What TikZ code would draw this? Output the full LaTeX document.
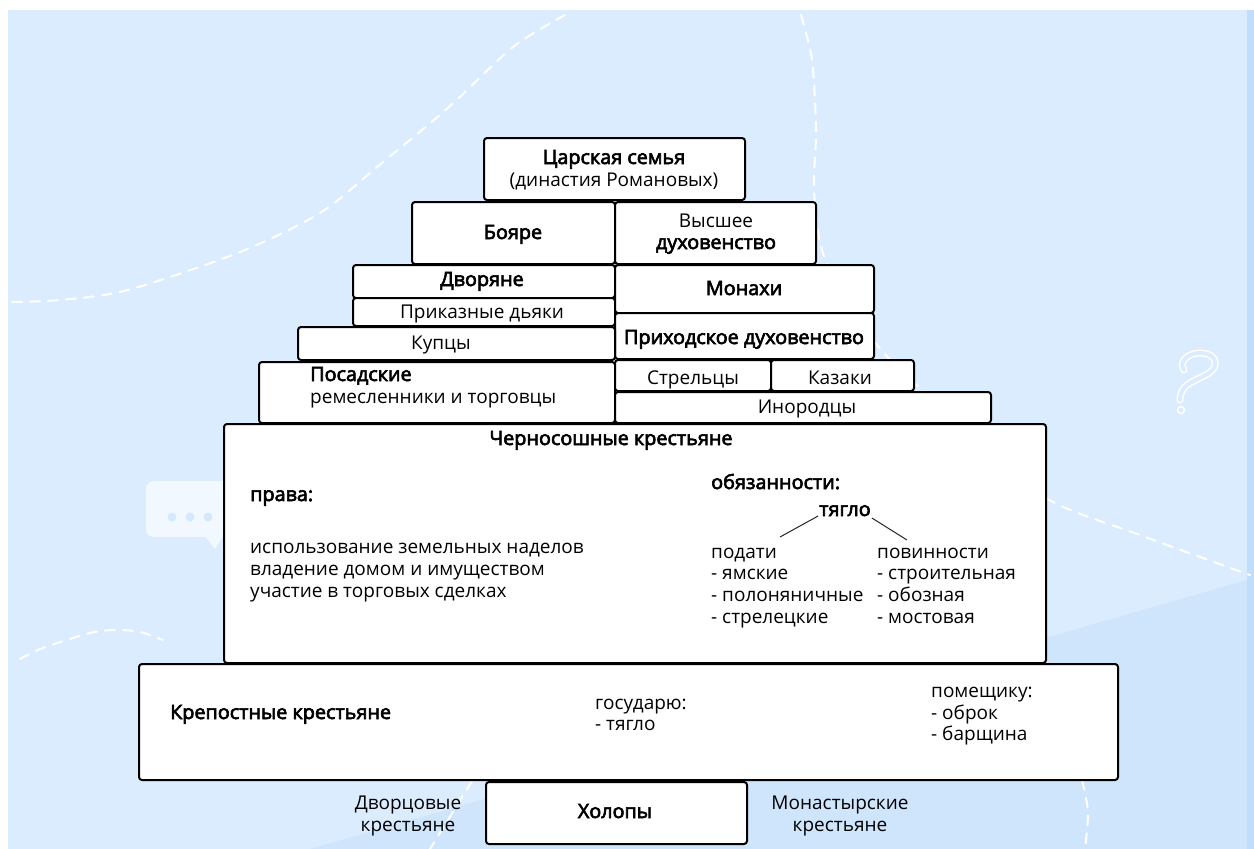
\documentclass[tikz,border=0pt]{standalone}
\usepackage{fontspec}
\setmainfont{Open Sans}[AutoFakeBold=3.2]
\definecolor{bgblue}{RGB}{219,236,254}
\definecolor{bgdark}{RGB}{207,229,252}
\definecolor{bgstrip}{RGB}{192,221,251}
\definecolor{bubble}{RGB}{241,248,255}
\definecolor{dotblue}{RGB}{214,233,252}
\newcommand\mybox[5]{\node[boxst, minimum width={#4-#2}, minimum height={#5-#3}] (#1) at ({(#2+#4)/2},{(#3+#5)/2}) {};}
\begin{document}
\begin{tikzpicture}[x=1pt,y=-1pt,
  boxst/.style={draw=black, line width=2pt, fill=white, rounded corners=3pt, inner sep=0pt, outer sep=0pt},
  txt/.style={font=\fontsize{19}{22}\selectfont, inner sep=0pt, anchor=base},
  txtl/.style={txt, anchor=base west},
  btxt/.style={txt, font=\fontsize{19.8}{22}\selectfont\bfseries},
  btxtl/.style={btxt, anchor=base west},
  wdash/.style={draw=white, line width=2pt, dash pattern=on 10pt off 8pt, line cap=round}]
\useasboundingbox (0,0) rectangle (1254,849);
% background
\fill[white] (0,0) rectangle (1254,849);
\fill[bgblue] (8,10) rectangle (1254,849);
\fill[bgdark] (1247,580) -- (310,849) -- (1247,849) -- cycle;
\fill[bgstrip] (1247,10) rectangle (1254,849);
% dashed decorations
\draw[wdash] plot[smooth] coordinates {(565,15) (513,47) (449,107) (377,167) (320,213) (240,252) (128,290) (60,300) (12,302)};
\draw[wdash] plot[smooth] coordinates {(801,15) (812,60) (816,130) (814,190) (822,250) (850,310) (900,370) (970,430) (1046,498) (1140,535) (1250,575)};
\draw[wdash] plot[smooth] coordinates {(1082,780) (1088,812) (1085,849)};
\draw[wdash] plot[smooth] coordinates {(20,659) (43,648) (90,633) (117,630) (140,632) (163,640)};
\draw[wdash] (472,781) -- (430,849);
% question mark
\draw[white, line width=7pt, line cap=round] (1184,370) .. controls (1178,362) and (1188,353) .. (1200,353) .. controls (1212,353) and (1218,360) .. (1214,368) .. controls (1210,376) and (1190,380) .. (1184,388) .. controls (1181,392) and (1180,396) .. (1180,400);
\draw[bgblue, line width=4pt, line cap=round] (1184,370) .. controls (1178,362) and (1188,353) .. (1200,353) .. controls (1212,353) and (1218,360) .. (1214,368) .. controls (1210,376) and (1190,380) .. (1184,388) .. controls (1181,392) and (1180,396) .. (1180,400);
\draw[white, line width=1.5pt, fill=bgblue] (1181,410) circle (3.5);
% speech bubble
\fill[bubble, rounded corners=8pt] (146,481) rectangle (240,537);
\fill[bubble] (204,535) -- (215,549) -- (224,535) -- cycle;
\fill[dotblue] (172,517) circle (4.5);
\fill[dotblue] (190,517) circle (4.5);
\fill[dotblue] (208,517) circle (4.5);
% boxes
\mybox{tsar}{484}{138}{745}{200}
\mybox{boyar}{412}{202}{615}{264}
\mybox{vd}{615}{202}{816}{264}
\mybox{dvor}{353}{265}{615}{298}
\mybox{prik}{353}{298}{615}{326}
\mybox{mon}{615}{265}{874}{313}
\mybox{prih}{615}{313}{874}{359}
\mybox{kup}{298}{327}{615}{360}
\mybox{pos}{259}{362}{615}{423}
\mybox{strel}{615}{360}{771}{391}
\mybox{kaz}{771}{360}{914}{391}
\mybox{inor}{615}{392}{991}{423}
\mybox{cher}{224}{424}{1046}{663}
\mybox{krep}{139}{664}{1118}{780}
\mybox{khol}{486}{782}{747}{844}
% texts
\node[btxt] (t1) at (614,164) {Царская семья};
\node[txt] (t2) at (614,186) {(династия Романовых)};
\node[btxt] (t3) at (513,239) {Бояре};
\node[txt] (t4) at (716,227) {Высшее};
\node[btxt] (t5) at (716,249) {духовенство};
\node[btxt] (t6) at (482,286) {Дворяне};
\node[txt] (t7) at (482,318) {Приказные дьяки};
\node[btxt] (t8) at (744,295) {Монахи};
\node[btxt] (t9) at (744,344) {Приходское духовенство};
\node[txt] (t10) at (441,349) {Купцы};
\node[btxtl] (t11) at (310,381) {Посадские};
\node[txtl] (t12) at (310,403) {ремесленники и торговцы};
\node[txt] (t13) at (693,384) {Стрельцы};
\node[txt] (t14) at (840,384) {Казаки};
\node[txt] (t15) at (807,413) {Инородцы};
\node[btxt] (t16) at (611,445) {Черносошные крестьяне};
\node[btxtl] (t17) at (250,501) {права:};
\node[txtl] (t18) at (250,553) {использование земельных наделов};
\node[txtl] (t19) at (250,575) {владение домом и имуществом};
\node[txtl] (t20) at (250,597) {участие в торговых сделках};
\node[btxtl] (t21) at (711,489) {обязанности:};
\node[btxt, inner sep=1pt] (tyaglo) at (845,516) {тягло};
\node[txtl] (t22) at (711,558) {подати};
\node[txtl] (t23) at (711,579) {- ямские};
\node[txtl] (t24) at (711,601) {- полоняничные};
\node[txtl] (t25) at (711,623) {- стрелецкие};
\node[txtl] (t26) at (877,558) {повинности};
\node[txtl] (t27) at (877,579) {- строительная};
\node[txtl] (t28) at (877,601) {- обозная};
\node[txtl] (t29) at (877,623) {- мостовая};
\coordinate (la) at (780,537);
\coordinate (lb) at (907,540);
\draw[line width=1pt, black!85] (tyaglo.base west) -- (la);
\draw[line width=1pt, black!85] ([yshift=-2pt]tyaglo.base east) -- (lb);
\node[btxtl] (t30) at (170,719) {Крепостные крестьяне};
\node[txtl] (t31) at (595,709) {государю:};
\node[txtl] (t32) at (595,730) {- тягло};
\node[txtl] (t33) at (931,697) {помещику:};
\node[txtl] (t34) at (931,719) {- оброк};
\node[txtl] (t35) at (931,740) {- барщина};
\node[btxt] (t36) at (615,818) {Холопы};
\node[txt] (t37) at (408,809) {Дворцовые};
\node[txt] (t38) at (408,831) {крестьяне};
\node[txt] (t39) at (840,809) {Монастырские};
\node[txt] (t40) at (840,831) {крестьяне};
\end{tikzpicture}
\end{document}
